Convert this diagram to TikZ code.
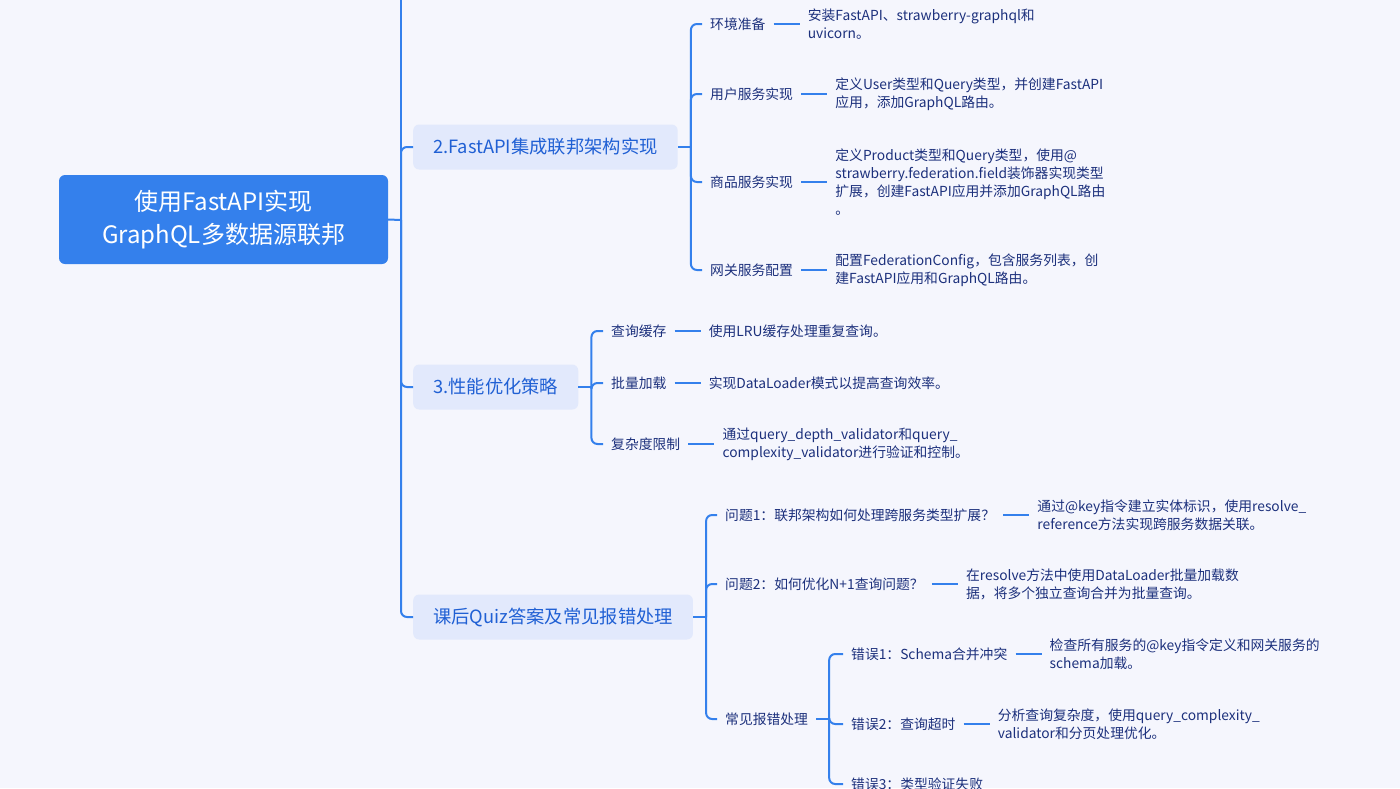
\documentclass[tikz,border=0pt]{standalone}
\usepackage{fontspec}
\setmainfont{Noto Sans CJK SC}
\usetikzlibrary{positioning}
\definecolor{MapBlau}{RGB}{52,128,236}
\definecolor{MapBlauHell}{RGB}{226,233,252}
\definecolor{MapTitel}{RGB}{32,96,212}
\definecolor{MapText}{RGB}{28,48,124}
\definecolor{MapGrund}{RGB}{245,246,253}

\begin{document}
\begin{tikzpicture}[x=1pt, y=-1pt,
  root/.style={rounded corners=6pt, fill=MapBlau, text=white, align=center,
    font=\fontsize{24}{33}\selectfont, minimum width=329pt, minimum height=89pt},
  topic/.style={rounded corners=6pt, fill=MapBlauHell, text=MapTitel, anchor=west,
    font=\fontsize{18.3}{22}\selectfont, inner xsep=20pt, minimum height=45pt},
  leaf/.style={text=MapText, font=\fontsize{13.8}{18}\selectfont, align=left,
    inner xsep=8pt, inner ysep=2pt, anchor=west},
  note/.style={leaf},
  branch/.style={draw=MapBlau, line width=2pt, rounded corners=6pt}]
\useasboundingbox (0,0) rectangle (1400,788);
\fill[MapGrund] (0,0) rectangle (1400,788);

% root and main topics
\node[root] (root) at (223.5,219.5) {使用FastAPI实现\\GraphQL多数据源联邦};
\node[topic] (fed)  at (413,147) {2.FastAPI集成联邦架构实现};
\node[topic] (perf) at (413,387) {3.性能优化策略};
\node[topic] (quiz) at (413,617) {课后Quiz答案及常见报错处理};

% 2. federation
\node[leaf] (env)  at (702,24)  {环境准备};
\node[leaf] (user) at (702,94)  {用户服务实现};
\node[leaf] (prod) at (702,182) {商品服务实现};
\node[leaf] (gate) at (702,270) {网关服务配置};
\node[note, right=26pt of env]  (envN)  {安装FastAPI、strawberry-graphql和\\uvicorn。};
\node[note, right=26pt of user] (userN) {定义User类型和Query类型，并创建FastAPI\\应用，添加GraphQL路由。};
\node[note, right=26pt of prod] (prodN) {定义Product类型和Query类型，使用@\\strawberry.federation.field装饰器实现类型\\扩展，创建FastAPI应用并添加GraphQL路由\\。};
\node[note, right=26pt of gate] (gateN) {配置FederationConfig，包含服务列表，创\\建FastAPI应用和GraphQL路由。};

% 3. performance
\node[leaf] (cache) at (603,331) {查询缓存};
\node[leaf] (batch) at (603,383) {批量加载};
\node[leaf] (limit) at (603,444) {复杂度限制};
\node[note, right=26pt of cache] (cacheN) {使用LRU缓存处理重复查询。};
\node[note, right=26pt of batch] (batchN) {实现DataLoader模式以提高查询效率。};
\node[note, right=26pt of limit] (limitN) {通过query\_depth\_validator和query\_\\complexity\_validator进行验证和控制。};

% quiz
\node[leaf] (qa) at (717,515) {问题1：联邦架构如何处理跨服务类型扩展？};
\node[leaf] (qb) at (717,584) {问题2：如何优化N+1查询问题？};
\node[leaf] (err) at (717,719) {常见报错处理};
\node[note, right=26pt of qa] (qaN) {通过@key指令建立实体标识，使用resolve\_\\reference方法实现跨服务数据关联。};
\node[note, right=26pt of qb] (qbN) {在resolve方法中使用DataLoader批量加载数\\据，将多个独立查询合并为批量查询。};
\node[leaf] (ea) at (843,654) {错误1：Schema合并冲突};
\node[leaf] (eb) at (843,724) {错误2：查询超时};
\node[leaf] (ec) at (843,784) {错误3：类型验证失败};
\node[note, right=26pt of ea] (eaN) {检查所有服务的@key指令定义和网关服务的\\schema加载。};
\node[note, right=26pt of eb] (ebN) {分析查询复杂度，使用query\_complexity\_\\validator和分页处理优化。};

% connectors
\coordinate (hub) at (401,220);
\coordinate (top) at (401,-10);
\draw[branch] (root.east) -- (hub);
\draw[branch] (hub) -- (top);
\foreach \t in {fed,perf,quiz}
  \draw[branch] (hub) |- (\t.west);

\coordinate (fedBus)  at ([xshift=13pt]fed.east);
\coordinate (perfBus) at ([xshift=13pt]perf.east);
\coordinate (quizBus) at ([xshift=13pt]quiz.east);
\coordinate (errBus)  at ([xshift=13pt]err.east);
\draw[branch] (fed.east) -- (fedBus);
\draw[branch] (perf.east) -- (perfBus);
\draw[branch] (quiz.east) -- (quizBus);
\draw[branch] (err.east) -- (errBus);
\foreach \c in {env,user,prod,gate}
  \draw[branch] (fedBus) |- (\c.west);
\foreach \c in {cache,batch,limit}
  \draw[branch] (perfBus) |- (\c.west);
\foreach \c in {qa,qb,err}
  \draw[branch] (quizBus) |- (\c.west);
\foreach \c in {ea,eb,ec}
  \draw[branch] (errBus) |- (\c.west);

\foreach \c in {env,user,prod,gate,cache,batch,limit,qa,qb,ea,eb}
  \draw[branch] (\c.east) -- (\c N.west);
\end{tikzpicture}
\end{document}
